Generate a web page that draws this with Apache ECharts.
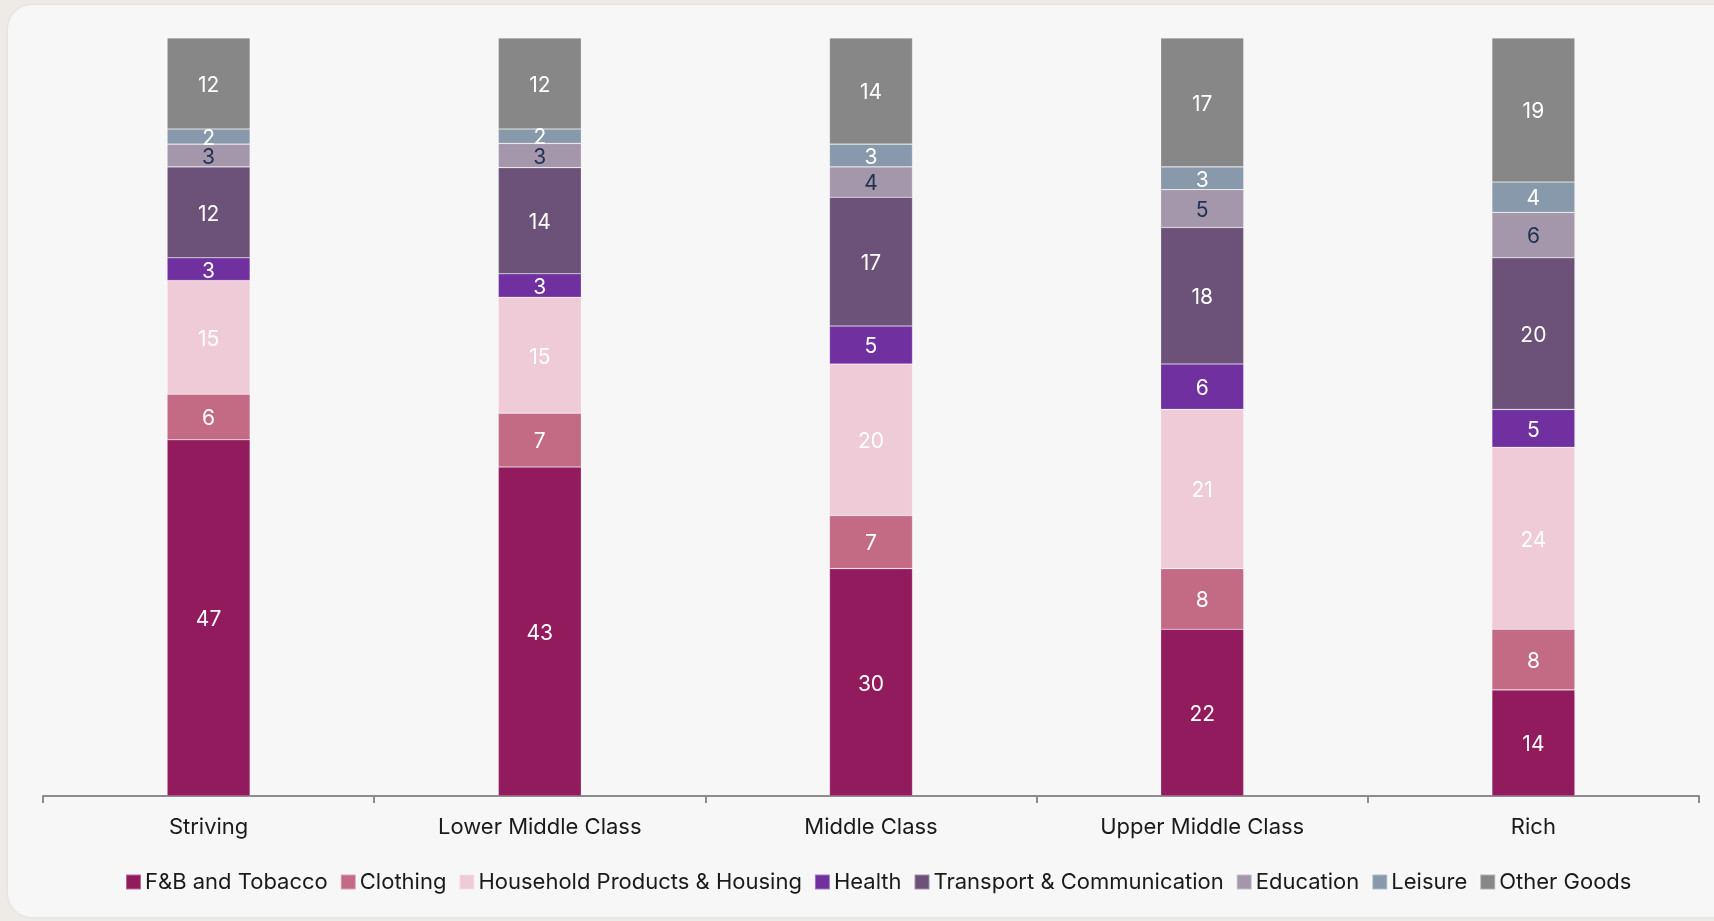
<!DOCTYPE html>
<html>
<head>
<meta charset="utf-8">
<script src="https://cdn.jsdelivr.net/npm/echarts@6/dist/echarts.min.js"></script>
<style>
  html, body { margin: 0; padding: 0; width: 1714px; height: 921px; overflow: hidden; background: #eeebe7; }
  #card { position: absolute; left: 8px; top: 5px; width: 1740px; height: 912px; background: #f7f7f7; border-radius: 24px; box-shadow: 0 0 3px rgba(0,0,0,0.08); }
  #chart { position: absolute; left: 0; top: 0; width: 1714px; height: 921px; }
</style>
</head>
<body>
<div id="card"></div>
<div id="chart"></div>
<script>
const categories = ['Striving', 'Lower Middle Class', 'Middle Class', 'Upper Middle Class', 'Rich'];
const seriesNames = ['F&B and Tobacco', 'Clothing', 'Household Products & Housing', 'Health', 'Transport & Communication', 'Education', 'Leisure', 'Other Goods'];
const fbTobacco   = [47, 43.4, 30, 22, 14];
const clothing    = [6, 7.1, 7, 8, 8];
const household   = [15, 15.3, 20, 21, 24];
const health      = [3, 3.1, 5, 6, 5];
const transport   = [12, 14.0, 17, 18, 20];
const education   = [3, 3.2, 4, 5, 6];
const leisure     = [2, 1.9, 3, 3, 4];
const otherGoods  = [12, 12.0, 14, 17, 19];
const seriesData = [fbTobacco, clothing, household, health, transport, education, leisure, otherGoods];
const colors = ['#921b5e', '#c36a85', '#efcbd7', '#7030a0', '#6c5278', '#a597ab', '#8799aa', '#878787'];
const labelColors = ['#ffffff', '#ffffff', '#ffffff', '#ffffff', '#ffffff', '#1f3050', '#ffffff', '#ffffff'];

const FONT = 'Inter, "Noto Sans", sans-serif';
const chart = echarts.init(document.getElementById('chart'));
chart.setOption({
  backgroundColor: 'transparent',
  animation: false,
  color: colors,
  grid: { left: 43, right: 15, top: 38, bottom: 125, containLabel: false },
  legend: {
    bottom: 23,
    left: 120,
    itemWidth: 15,
    itemHeight: 15,
    itemGap: 12,
    icon: 'rect',
    textStyle: { fontFamily: FONT, fontSize: 22, color: '#1a1a1a', padding: [0, 0, 0, -1] },
    data: seriesNames
  },
  xAxis: {
    type: 'category',
    data: categories,
    axisLine: { lineStyle: { color: '#8c8c8c', width: 2 } },
    axisTick: { show: true, length: 7, lineStyle: { color: '#8c8c8c', width: 2 } },
    axisLabel: { fontFamily: FONT, fontSize: 22, color: '#1a1a1a', margin: 20 }
  },
  yAxis: { type: 'value', min: 0, max: 100, show: false, splitLine: { show: false } },
  series: seriesNames.map((name, i) => ({
    name: name,
    type: 'bar',
    stack: 'total',
    barWidth: 83,
    data: seriesData[i],
    itemStyle: { color: colors[i], borderColor: 'rgba(255,255,255,0.35)', borderWidth: 0.6 },
    label: {
      show: true,
      position: 'inside',
      offset: [0, 2],
      fontFamily: FONT,
      fontSize: 21,
      color: labelColors[i],
      formatter: p => Math.round(p.value)
    }
  }))
});
</script>
</body>
</html>
